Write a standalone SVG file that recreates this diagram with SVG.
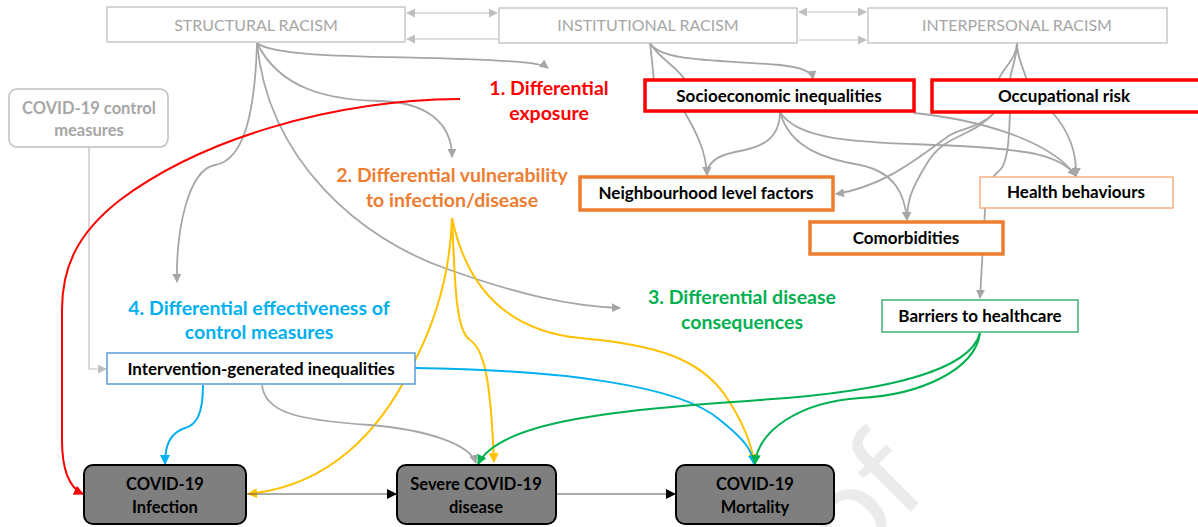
<svg xmlns="http://www.w3.org/2000/svg" width="1198" height="527" viewBox="0 0 1198 527">
<defs>
<style>
.t{font-family:Lato,"Open Sans","Liberation Sans",sans-serif;text-anchor:middle}
.top{font-size:16px;fill:#a6a6a6}
.lbl{font-size:17px;font-weight:bold;fill:#000}
.out{font-size:16.5px;font-weight:bold;fill:#000}
.hd{font-size:19.5px;font-weight:bold}
.g{fill:none;stroke:#a6a6a6;stroke-width:1.8}
.gt{fill:none;stroke:#bfbfbf;stroke-width:1.2}
.r{fill:none;stroke:#ff0000;stroke-width:2}
.y{fill:none;stroke:#ffc000;stroke-width:2}
.b{fill:none;stroke:#00b0f0;stroke-width:2}
.gr{fill:none;stroke:#00b050;stroke-width:2}
.k{fill:none;stroke:#595959;stroke-width:1.2}
.dark{fill:#7f7f7f;stroke:#000;stroke-width:2}
</style>
<marker id="ag" viewBox="0 0 10 10" refX="9" refY="5" markerWidth="9" markerHeight="9" markerUnits="userSpaceOnUse" orient="auto"><path d="M0,0L10,5L0,10z" fill="#a6a6a6"/></marker>
<marker id="agt" viewBox="0 0 10 10" refX="9" refY="5" markerWidth="9" markerHeight="9" markerUnits="userSpaceOnUse" orient="auto-start-reverse"><path d="M0,0L10,5L0,10z" fill="#bfbfbf"/></marker>
<marker id="ar" viewBox="0 0 10 10" refX="9" refY="5" markerWidth="10" markerHeight="10" markerUnits="userSpaceOnUse" orient="auto"><path d="M0,0L10,5L0,10z" fill="#ff0000"/></marker>
<marker id="ay" viewBox="0 0 10 10" refX="9" refY="5" markerWidth="10" markerHeight="10" markerUnits="userSpaceOnUse" orient="auto"><path d="M0,0L10,5L0,10z" fill="#ffc000"/></marker>
<marker id="ab" viewBox="0 0 10 10" refX="9" refY="5" markerWidth="10" markerHeight="10" markerUnits="userSpaceOnUse" orient="auto"><path d="M0,0L10,5L0,10z" fill="#00b0f0"/></marker>
<marker id="agr" viewBox="0 0 10 10" refX="9" refY="5" markerWidth="10" markerHeight="10" markerUnits="userSpaceOnUse" orient="auto"><path d="M0,0L10,5L0,10z" fill="#00b050"/></marker>
<marker id="ak" viewBox="0 0 10 10" refX="9" refY="5" markerWidth="10" markerHeight="10" markerUnits="userSpaceOnUse" orient="auto"><path d="M0,0L10,5L0,10z" fill="#000"/></marker>
</defs>
<rect width="1198" height="527" fill="#fff"/>
<text x="0" y="0" transform="translate(850,572) rotate(-45)" style="font-family:Lato,'Liberation Sans',sans-serif;font-size:130px;fill:#ebebeb">of</text>

<g id="connectors">
<path class="gt" d="M407,13 L497,13" marker-start="url(#agt)" marker-end="url(#agt)"/>
<path class="gt" d="M498,39 L407,39" marker-end="url(#agt)"/>
<path class="gt" d="M799,12 L866,12" marker-start="url(#agt)" marker-end="url(#agt)"/>
<path class="gt" d="M799,40 L866,40" marker-end="url(#agt)"/>
<path class="g" d="M257,43 C275,58 380,56 460,59 C510,61 540,62 548,68" marker-end="url(#ag)"/>
<path class="g" d="M257,43 C280,90 330,100 380,101 C425,102 452,122 452,157" marker-end="url(#ag)"/>
<path class="g" d="M257,43 C255,110 245,160 215,165 C188,170 176,230 177,282" marker-end="url(#ag)"/>
<path class="g" d="M257,43 C268,160 360,240 450,270 C520,295 570,306 620,308" marker-end="url(#ag)"/>
<path class="g" d="M650,43 C660,62 720,60 780,65 C800,67 812,72 813,79" marker-end="url(#ag)"/>
<path class="g" d="M650,43 C652,60 653,70 654,82"/>
<path class="g" d="M650,43 C660,60 680,68 686,82"/>
<path class="g" d="M684,111 C695,130 706,150 707,175" marker-end="url(#ag)"/>
<path class="g" d="M780,112 C780,140 760,148 735,152 C715,156 707,165 707,175" marker-end="url(#ag)"/>
<path class="g" d="M780,112 C790,150 830,160 860,165 C895,172 905,195 907,220" marker-end="url(#ag)"/>
<path class="g" d="M780,112 C800,145 880,142 960,146 C1030,150 1060,155 1076,176" marker-end="url(#ag)"/>
<path class="g" d="M914,113 C980,120 1050,140 1076,176" marker-end="url(#ag)"/>
<path class="g" d="M1017,43 C1017,60 1000,70 998,82"/>
<path class="g" d="M1017,43 C1017,60 1010,70 1010,82"/>
<path class="g" d="M1017,43 C1017,60 1025,70 1027,82"/>
<path class="g" d="M995,112 C980,128 962,128 950,135 C918,158 885,186 836,194" marker-end="url(#ag)"/>
<path class="g" d="M995,112 C970,140 945,132 926,165 C912,188 907,200 907,220" marker-end="url(#ag)"/>
<path class="g" d="M1010,112 C1009,140 1008,165 998,172 C988,180 986,190 985,210 L980,298" marker-end="url(#ag)"/>
<path class="g" d="M1052,112 C1068,130 1077,150 1076,176" marker-end="url(#ag)"/>
<path class="gt" d="M89,147 L89,369 L106,369" marker-end="url(#agt)"/>
<path class="r" d="M460,99 C330,100 200,140 120,200 C75,235 62,270 62,310 L62,440 C62,470 70,488 83,494" marker-end="url(#ar)"/>
<path class="y" d="M452,218 C450,280 432,330 410,370 C380,430 330,486 248,494" marker-end="url(#ay)"/>
<path class="y" d="M452,218 C455,280 455,330 470,340 C486,350 491,390 494,462" marker-end="url(#ay)"/>
<path class="y" d="M452,218 C465,280 500,330 580,338 C660,345 700,360 725,395 C745,425 752,445 754,463" marker-end="url(#ay)"/>
<path class="b" d="M203,385 C203,415 196,425 185,428 C170,433 165,445 165,464" marker-end="url(#ab)"/>
<path class="b" d="M415,368 C560,370 680,385 720,420 C745,440 752,450 754,464" marker-end="url(#ab)"/>
<path class="g" d="M262,385 C265,412 295,420 370,425 C430,430 470,445 476,463" marker-end="url(#ag)"/>
<path class="gr" d="M980,333 C975,370 920,395 860,398 C800,402 758,430 755,464" marker-end="url(#agr)"/>
<path class="gr" d="M980,333 C970,372 880,392 760,400 C620,410 500,420 478,464" marker-end="url(#agr)"/>
<path class="k" d="M247,494 L396,494" marker-end="url(#ak)"/>
<path class="k" d="M557,494 L675,494" marker-end="url(#ak)"/>
</g>

<g id="structural-racism"><rect x="107" y="7" width="298" height="35" fill="#fff" stroke="#bfbfbf" stroke-width="1.3"/><text class="t top" x="256" y="31">STRUCTURAL RACISM</text></g>
<g id="institutional-racism"><rect x="499" y="8" width="298" height="35" fill="#fff" stroke="#bfbfbf" stroke-width="1.3"/><text class="t top" x="648" y="31">INSTITUTIONAL RACISM</text></g>
<g id="interpersonal-racism"><rect x="868" y="8" width="299" height="35" fill="#fff" stroke="#bfbfbf" stroke-width="1.3"/><text class="t top" x="1017" y="31">INTERPERSONAL RACISM</text></g>

<g id="covid-control"><rect x="9" y="89" width="159" height="58" rx="8" fill="#fff" stroke="#bfbfbf" stroke-width="1.5"/><text class="t lbl" x="89" y="114" style="fill:#a6a6a6;font-size:16.5px">COVID-19 control</text><text class="t lbl" x="89" y="136" style="fill:#a6a6a6;font-size:16.5px">measures</text></g>

<g id="diff-exposure"><text class="t hd" x="549" y="95" fill="#ff0000">1. Differential</text><text class="t hd" x="549" y="120" fill="#ff0000">exposure</text></g>
<g id="diff-vulnerability"><text class="t hd" x="452" y="182" fill="#ed7d31">2. Differential vulnerability</text><text class="t hd" x="452" y="207" fill="#ed7d31">to infection/disease</text></g>
<g id="diff-consequences"><text class="t hd" x="742" y="304" fill="#00b050">3. Differential disease</text><text class="t hd" x="742" y="329" fill="#00b050">consequences</text></g>
<g id="diff-effectiveness"><text class="t hd" x="259" y="315" fill="#00b0f0">4. Differential effectiveness of</text><text class="t hd" x="259" y="339" fill="#00b0f0">control measures</text></g>

<g id="socioeconomic"><rect x="645" y="80" width="269" height="31" fill="#fff" stroke="#ff0000" stroke-width="3.5"/><text class="t lbl" x="779" y="102">Socioeconomic inequalities</text></g>
<g id="occupational"><rect x="932" y="80" width="275" height="32" fill="#fff" stroke="#ff0000" stroke-width="3.5"/><text class="t lbl" x="1064" y="102">Occupational risk</text></g>
<g id="neighbourhood"><rect x="580" y="177" width="253" height="33" fill="#fff" stroke="#ed7d31" stroke-width="3.5"/><text class="t lbl" x="706" y="199">Neighbourhood level factors</text></g>
<g id="health-behaviours"><rect x="980" y="177" width="193" height="31" fill="#fff" stroke="#f4b183" stroke-width="1.5"/><text class="t lbl" x="1076" y="198">Health behaviours</text></g>
<g id="comorbidities"><rect x="810" y="222" width="193" height="32" fill="#fff" stroke="#ed7d31" stroke-width="3.5"/><text class="t lbl" x="906" y="244">Comorbidities</text></g>
<g id="barriers"><rect x="882" y="300" width="196" height="32" fill="#fff" stroke="#3cb371" stroke-width="1.5"/><text class="t lbl" x="980" y="322">Barriers to healthcare</text></g>
<g id="intervention"><rect x="107" y="353" width="308" height="31" fill="#fff" stroke="#5b9bd5" stroke-width="1.5"/><text class="t lbl" x="261" y="375">Intervention-generated inequalities</text></g>

<g id="covid-infection"><rect class="dark" x="84" y="465" width="162" height="59" rx="9"/><text class="t out" x="165" y="490">COVID-19</text><text class="t out" x="165" y="513">Infection</text></g>
<g id="severe-covid"><rect class="dark" x="397" y="465" width="159" height="59" rx="9"/><text class="t out" x="476" y="490">Severe COVID-19</text><text class="t out" x="476" y="513">disease</text></g>
<g id="covid-mortality"><rect class="dark" x="676" y="465" width="158" height="59" rx="9"/><text class="t out" x="755" y="490">COVID-19</text><text class="t out" x="755" y="513">Mortality</text></g>
</svg>
